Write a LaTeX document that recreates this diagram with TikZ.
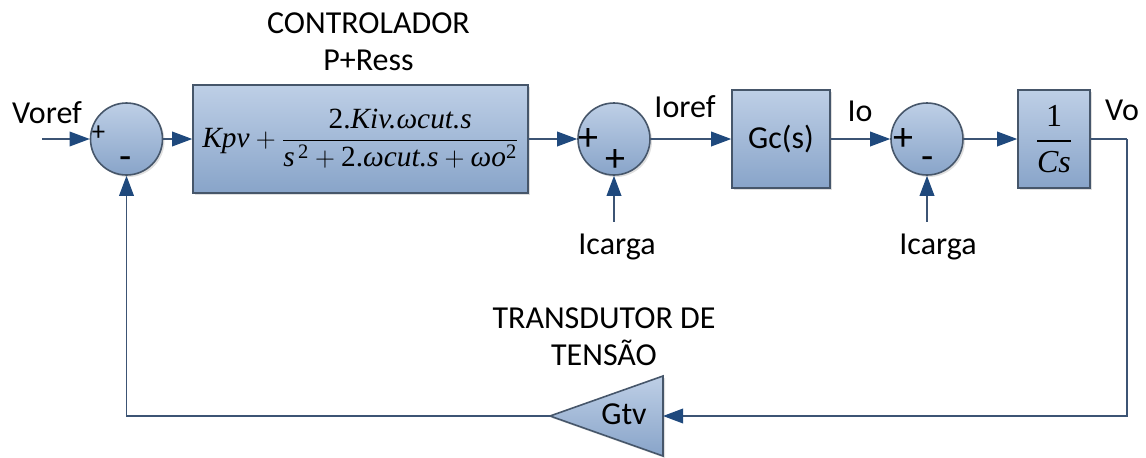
\documentclass[tikz,border=0pt]{standalone}
\usepackage{amsmath}
\usepackage{fontspec}
\setmainfont{Carlito}
\newfontfamily\tms{Liberation Serif}
\usepackage{tikz}
\usetikzlibrary{positioning,arrows.meta,shadows}

\definecolor{blkfill}{RGB}{190,207,230}
\definecolor{blkfillb}{RGB}{136,164,201}
\definecolor{blkdraw}{RGB}{70,86,106}
\definecolor{sigline}{RGB}{60,84,116}
\definecolor{sighead}{RGB}{31,73,125}

\newcommand{\tmsi}[1]{\text{\tms\itshape #1}}
\newcommand{\tmsr}[1]{\text{\tms #1}}

\begin{document}
\begin{tikzpicture}[x=0.75pt, y=0.75pt,
  blk/.style={draw=blkdraw, line width=1.2pt, top color=blkfill, bottom color=blkfillb,
              drop shadow={opacity=0.25, shadow xshift=1.5pt, shadow yshift=-1.5pt},
              inner sep=1pt, align=center},
  sumblk/.style={blk, circle, minimum size=54pt},
  sig/.style={draw=sigline, line width=1pt, -{Triangle[length=15pt, width=11pt, color=sighead]}},
  wire/.style={draw=sigline, line width=1pt},
  lbl/.style={font=\fontsize{24}{28}\selectfont, inner sep=0pt, align=center},
  sgn/.style={font=\fontsize{30}{30}\selectfont, inner sep=0pt}]

\useasboundingbox (0,0) rectangle (1146,-457);

% blocos da malha direta
\node[sumblk] (sum1) at (126.5,-139) {};
\node[blk, minimum width=251.25pt, minimum height=81pt] (ctrl) at (360.5,-139)
  {\fontsize{22}{26}\selectfont
   $\tmsi{Kpv} + \dfrac{\tmsr{2.}\tmsi{Kiv.ωcut.s}}{\tmsi{s}^{\,\tmsr{2}} + \tmsr{2.}\tmsi{ωcut.s} + \tmsi{ωo}^{\tmsr{2}}}$};
\node[sumblk] (sum2) at (614,-139) {};
\node[blk, minimum size=73.5pt] (gc) at (781,-139) {\fontsize{24}{28}\selectfont Gc(s)};
\node[sumblk] (sum3) at (927,-139) {};
\node[blk, minimum width=54pt, minimum height=73.5pt] (cs) at (1054,-139)
  {\fontsize{24}{28}\selectfont $\dfrac{\tmsr{1}}{\tmsi{Cs}}$};

% transdutor
\filldraw[blk] (663,-376) -- (663,-456) -- (550,-416) -- cycle;
\node[lbl] (gtv) at (624,-414) {Gtv};
\coordinate (gtvin)  at (663,-416);
\coordinate (gtvout) at (550,-416);

% textos
\node[lbl, above=9.75pt of ctrl, xshift=6pt] (ctrltxt) {CONTROLADOR\\P+Ress};
\node[lbl, anchor=south] (tvtxt) at (604,-366) {TRANSDUTOR DE\\TENS\~AO};
\node[lbl] (voref) at (47,-113) {Voref};
\node[lbl] (ioref) at (685,-107) {Ioref};
\node[lbl] (io)    at (860,-111) {Io};
\node[lbl] (vo)    at (1122,-110) {Vo};
\node[lbl] (ic1)   at (617,-247) {Icarga};
\node[lbl] (ic2)   at (938,-247) {Icarga};

% sinais
\node[sgn, font=\fontsize{20}{20}\selectfont] at ([xshift=-21pt, yshift=4.5pt]sum1.center) {+};
\node[sgn] at ([xshift=-1pt, yshift=-18pt]sum1.center) {-};
\node[sgn] at ([xshift=-19pt, yshift=-0.75pt]sum2.center) {+};
\node[sgn] at ([xshift=0.75pt, yshift=-16.5pt]sum2.center) {+};
\node[sgn] at ([xshift=-17.5pt, yshift=-0.75pt]sum3.center) {+};
\node[sgn] at ([xshift=0.75pt, yshift=-18pt]sum3.center) {-};

% ligacoes
\coordinate (vin) at (42,-139);
\coordinate (vout) at (1127,-139);
\draw[sig] (vin) -- (sum1.west);
\draw[sig] (sum1) -- (ctrl);
\draw[sig] (ctrl) -- (sum2);
\draw[sig] (sum2) -- (gc);
\draw[sig] (gc) -- (sum3);
\draw[sig] (sum3) -- (cs);
\draw[wire] (cs.east) -- (vout);
\draw[sig] (vout) |- (gtvin);
\draw[sig] (gtvout) -| (sum1.south);
\draw[sig] ([yshift=9pt]sum2.south |- ic1.north) -- (sum2.south);
\draw[sig] ([yshift=9pt]sum3.south |- ic2.north) -- (sum3.south);
\end{tikzpicture}
\end{document}
